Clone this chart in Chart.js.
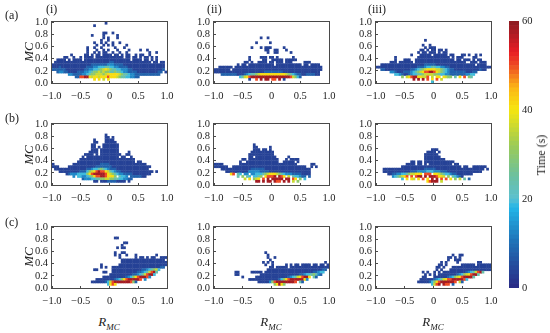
<!DOCTYPE html>
<html>
<head>
<meta charset="utf-8">
<script src="https://cdn.jsdelivr.net/npm/chart.js@4"></script>
<style>
  html, body { margin: 0; background: #fff; }
  body { position: relative; width: 550px; height: 333px; overflow: hidden; font-family: "Liberation Serif", serif; color: #222; }
  canvas { position: absolute; }
  .frame { position: absolute; border: 1px solid #4a4a4a; }
  .lbl { position: absolute; font-size: 12px; line-height: 14px; white-space: nowrap; }
  .mc { font-size: 13px; font-style: italic; transform: translate(-50%, -50%) rotate(-90deg); }
  .rmc { font-size: 13px; font-style: italic; transform: translate(-50%, -50%); }
  .rmc sub { font-size: 9px; line-height: 0; }
</style>
</head>
<body>
<canvas id="a1"></canvas><canvas id="a2"></canvas><canvas id="a3"></canvas>
<canvas id="b1"></canvas><canvas id="b2"></canvas><canvas id="b3"></canvas>
<canvas id="c1"></canvas><canvas id="c2"></canvas><canvas id="c3"></canvas>
<canvas id="bar"></canvas>

<span class="lbl" style="left:5px;top:8px;">(a)</span>
<span class="lbl" style="left:5px;top:111px;">(b)</span>
<span class="lbl" style="left:5px;top:215px;">(c)</span>
<span class="lbl" style="left:46px;top:2px;">(i)</span>
<span class="lbl" style="left:207px;top:2px;">(ii)</span>
<span class="lbl" style="left:368px;top:2px;">(iii)</span>
<span class="lbl mc" style="left:29px;top:52px;">MC</span>
<span class="lbl mc" style="left:29px;top:155px;">MC</span>
<span class="lbl mc" style="left:29px;top:257px;">MC</span>
<span class="lbl rmc" style="left:109px;top:322px;">R<sub>MC</sub></span>
<span class="lbl rmc" style="left:271px;top:322px;">R<sub>MC</sub></span>
<span class="lbl rmc" style="left:433px;top:322px;">R<sub>MC</sub></span>
<span class="lbl" style="left:541px;top:155px;transform:translate(-50%,-50%) rotate(-90deg);">Time (s)</span>

<script>
// tick values and labels
const xTicks = [-1, -0.5, 0, 0.5, 1];
const xTickLabels = ['\u22121.0', '\u22120.5', '0', '0.5', '1.0'];
const yTicks = [0, 0.2, 0.4, 0.6, 0.8, 1];
const yTickLabels = ['0.0', '0.2', '0.4', '0.6', '0.8', '1.0'];
const barTicks = [0, 20, 40, 60];

// time (s) for each digit used in the grids below
const timeLevels = [3.5, 8, 13, 19, 24, 30, 36, 41, 50, 58];

// colour bar stops [time, colour]
const colourStops = [
  [0, '#2a2a85'], [10, '#1f6fb5'], [18, '#22b5e8'], [20, '#5bc0d0'], [25, '#6cc0a0'],
  [32, '#9ccb55'], [40, '#f6e60e'], [45, '#fbb516'], [50, '#ee4a24'], [53, '#e81c24'],
  [57, '#b01c24'], [60, '#8a1c22']
];

const rBin = 0.04;  // R_MC bin, columns start at -1
const mcBin = 0.04; // MC bin, rows start at 0
// each grid: rows listed top down from MC row 24 to MC row 0, one char per R_MC column
const a1 = [
  "                       0",
  "                  0",
  "",
  "",
  "                      00  0",
  "                 0    0     0",
  "                      0 0   0",
  "                     0  0",
  "                  0  0 0  0  0",
  "                   0  0 0 0     0",
  "               0  0  0     0   0",
  "               0   0  0 0   0    0    0  0",
  "               0  0 0 00  0  0  0         0  0",
  "        0     00 0 00 0000 00 0 00  0 00  0",
  "     00  0  0 0000 000000000000 00 00 0 00 0 0",
  "  0000 0 0000 00000000000000000000 0000 00 0 0",
  " 000000000000000000000000110000000000000000 00 00",
  "0000000000000000011111112221111000000000000000000",
  "0001000000000001112233344332211110000000000000000",
  "1111110000000011223345676544332221100000000000001",
  "  1221100001112234556565544544322111100000000011 0",
  "       2211112234556665677777654432211111111111",
  "          1188997677677787776544332211",
  "                  7 7 6 7",
  ""
];
const a2 = [
  "", "", "", "", "", "",
  "                    0  0",
  "",
  "                  0     0",
  "",
  "                0   0 000     0",
  "                      00  00   0",
  "                       0  00     0",
  "",
  "               0    000 00 0      0",
  "               0     00  00000 00000",
  "             00 0  0000 00 000 000     000",
  "          0 00 00000000000 00000000000 00 0000",
  "  000000 00000000000000000000000000000000000000",
  "0000000 000000000000000000000000000000000000000",
  "0000000000000000000000111111110000000000000000",
  "   1111111000123445677777777777654321100111100",
  "           346789999999999999999986531",
  "               0  8 9 99 88 9 0",
  ""
];
const a3 = [
  "", "", "", "", "", "", "",
  "                     0",
  "",
  "                    0  0",
  "                     0 000",
  "                   00 0 00 00 0",
  "                  0 00 000 0 00",
  "               0   00000 000000 00   00 0  0 0",
  "        0         00000000000000 0 000    00",
  "        0   000  00000000000000000 00 000 0 00",
  "      000 000000 0000000000000000000000  000 000",
  "  00000000000000000001111100000000000000000 0000",
  "00000000000000000011123344332211000000000000000000",
  "  1100000000000112345677776654321100000000000100",
  "      22100011123456788998765432111111100011",
  "        33210012334456666554332211111112233",
  "           5 6789977668 6 77 7655 4 7 8 54",
  "                9 9 9 8 7 8 6",
  "                        3"
];
const b1 = [
  "", "", "", "",
  "                       0",
  "                       00 0",
  "                  0    0000",
  "                  00   00000",
  "                 00   0000000",
  "                 00 0 0000000",
  "                 000 00000000",
  "                0000 00000000    0",
  "              0000 0 000000000  00",
  "             0 00000000000000 00  0",
  "            000000000000000000000000",
  "           0000000000000000000000000 00",
  "0        00000000000011110000000000000000",
  "000    000000000000111111100000000000000000",
  " 00000000000000112334543211100000000000000",
  "   00000000011135678988764321100000000000000 0",
  "      0122233335789999987654322111100000000",
  "         2 33223457889987775 4332 1111100",
  "             1222334455665544332211",
  "                  00 00011110000 0",
  ""
];
const b2 = [
  "", "", "", "", "", "", "", "",
  "                 0",
  "                 00     0",
  "                 000 00 0",
  "                0000000000",
  "               00000000000",
  "               00 000000000     0",
  "            00 0000000000000   0 0000",
  "           0  00000000000000  00000 0",
  "0000       0000000000000000000000000      00",
  "000000  00000000000000000000000000000000  0 0",
  "   000000000000011111100000000000000000000",
  "     0000000000222221111000000000000000000",
  "       78 43 22 22333456777654322211110000",
  "          4 5 43 3345 78889 987 6 433211 1",
  "             6 7 567 8 9 99999 99 87 5 3",
  "                  99 9 99 988 9 9 6 5",
  ""
];
const b3 = [
  "", "", "", "", "", "", "", "", "", "",
  "                        000",
  "                      0000 0",
  "                     000000",
  "                     0000000",
  "                     000000000",
  "               00 00 0000000000000",
  "             0000 00 0 0000000000 00",
  "           00000000000000000000000000 00  000000",
  "   00000000000000000011111000000000000000000000 0",
  "   0000000000001112222333222111000000000000000",
  "     001122334566777 888 77654332110000000",
  "       2345678 8 899 9 9998776 5 43210",
  "           3 7 76 7 8 7 9 9 8 8 7 5 6 4 1",
  "                      78999 6",
  ""
];
const c1 = [
  "", "", "", "",
  "                           00",
  "",
  "                               00",
  "                              0",
  "                            0 00",
  "",
  "                           0  00",
  "                           0 0  0   0        0",
  "                             0      0 00 0 00  00000",
  "                              0000000000000000000 0",
  "                              00000000000000000000",
  "                     0       000000000000000000000",
  "                     0 0  00000000000000000000011",
  "                  00      000000000000011234563",
  "                      00  00000000000112346894",
  "                         00000000001123468993",
  "                      000000000012357899982",
  "                   00000000123578999998 2",
  "                 00000013689999999851",
  "                        3787",
  ""
];
const c2 = [
  "", "", "", "", "", "", "", "", "", "",
  "                      0",
  "                       0",
  "                       0  0",
  "                        0",
  "                     0 0 0                      0",
  "                      0  0     0 0 00 0000 00 00 00",
  "                        00 00000 000000000000000000",
  "                       00000000000000000000000011",
  "         00     00000 00000000000000000000011233",
  "         00         000000000000000001123345421",
  "            0     000000000000001234678997 41",
  "               00000000000001357899999972",
  "                   00000258999999998 41",
  "                          57975",
  ""
];
const c3 = [
  "", "", "", "", "", "", "", "", "", "", "",
  "                                 0  00",
  "                               00 0 0",
  "                               0  000",
  "                            0 0    0        00",
  "                           00 0      000000 000000",
  "                          00 0   00000000000000000",
  "                          0 0   00000000000000000011",
  "                    0 0  0 0 000000000012346894",
  "                     0 0 0 000000001235678994",
  "                    00   000000123567899994",
  "                   000000123467889999983",
  "                  00000135789999998 61",
  "                        3689 988 1",
  ""
];

const panels = [
  { id: 'a1', grid: a1, left: 52, top: 22 }, { id: 'a2', grid: a2, left: 214, top: 22 }, { id: 'a3', grid: a3, left: 376, top: 22 },
  { id: 'b1', grid: b1, left: 52, top: 124 }, { id: 'b2', grid: b2, left: 214, top: 124 }, { id: 'b3', grid: b3, left: 376, top: 124 },
  { id: 'c1', grid: c1, left: 52, top: 227 }, { id: 'c2', grid: c2, left: 214, top: 227 }, { id: 'c3', grid: c3, left: 376, top: 227 }
];

function hexToRgb(h) {
  return [1, 3, 5].map(i => parseInt(h.substr(i, 2), 16));
}

function timeColour(t) {
  for (let i = 1; i < colourStops.length; i++) {
    if (t <= colourStops[i][0]) {
      const [t0, col0] = colourStops[i - 1];
      const [t1, col1] = colourStops[i];
      const f = (t - t0) / (t1 - t0);
      const a = hexToRgb(col0), b = hexToRgb(col1);
      return `rgb(${a.map((v, k) => Math.round(v + (b[k] - v) * f)).join(',')})`;
    }
  }
  return colourStops[colourStops.length - 1][1];
}

function gridToCells(grid) {
  const cells = [];
  grid.forEach((row, r) => {
    const mc = (grid.length - 1 - r + 0.5) * mcBin;
    [...row].forEach((ch, c) => {
      if (ch !== ' ') cells.push({ x: -1 + (c + 0.5) * rBin, y: mc, t: timeLevels[+ch] });
    });
  });
  return cells;
}

const tickFont = { family: '"Liberation Serif", serif', size: 10.5 };
const plotW = 115, plotH = 61, padL = 36, padR = 14, padT = 6, padB = 22;
// short inward tick marks
const tickGrid = { drawOnChartArea: false, tickLength: -2, color: '#4a4a4a' };

panels.forEach(p => {
  const canvas = document.getElementById(p.id);
  canvas.width = plotW + padL + padR;
  canvas.height = plotH + padT + padB;
  canvas.style.left = (p.left - padL) + 'px';
  canvas.style.top = (p.top - padT) + 'px';

  const frame = document.createElement('div');
  frame.className = 'frame';
  frame.style.cssText = `left:${p.left - 1}px;top:${p.top - 1}px;width:${plotW}px;height:${plotH}px;`;
  document.body.appendChild(frame);

  new Chart(canvas, {
    type: 'scatter',
    data: {
      datasets: [{
        data: gridToCells(p.grid),
        pointStyle: 'rect',
        pointRadius: 1.95,
        pointBorderWidth: 0,
        pointBackgroundColor: ctx => timeColour(ctx.raw.t)
      }]
    },
    options: {
      responsive: false,
      animation: false,
      layout: { padding: { top: padT, right: padR } },
      plugins: { legend: { display: false }, tooltip: { enabled: false } },
      scales: {
        x: {
          type: 'linear', min: -1, max: 1, z: 1,
          grid: tickGrid, border: { display: false },
          afterBuildTicks: s => { s.ticks = xTicks.map(value => ({ value })); },
          afterFit: s => { s.height = padB; s.paddingLeft = 0; s.paddingRight = 0; },
          ticks: {
            autoSkip: false, maxRotation: 0, padding: 9, color: '#222', font: tickFont,
            callback: v => xTickLabels[xTicks.indexOf(v)]
          }
        },
        y: {
          type: 'linear', min: 0, max: 1, z: 1,
          grid: tickGrid, border: { display: false },
          afterBuildTicks: s => { s.ticks = yTicks.map(value => ({ value })); },
          afterFit: s => { s.width = padL; s.paddingTop = 0; s.paddingBottom = 0; },
          ticks: {
            autoSkip: false, padding: 6, color: '#222', font: tickFont,
            callback: v => yTickLabels[yTicks.indexOf(v)]
          }
        }
      }
    }
  });
});

// colour bar: one stacked bar, one 1 s segment per dataset
const barSteps = Array.from({ length: 60 }, (_, i) => i);
const barCanvas = document.getElementById('bar');
barCanvas.width = 41;
barCanvas.height = 279;
barCanvas.style.left = '509px';
barCanvas.style.top = '15px';
new Chart(barCanvas, {
  type: 'bar',
  data: {
    labels: ['Time (s)'],
    datasets: barSteps.map(t => ({
      data: [1],
      backgroundColor: timeColour(t + 0.5),
      borderWidth: 0,
      barPercentage: 1,
      categoryPercentage: 1
    }))
  },
  options: {
    responsive: false,
    animation: false,
    layout: { padding: { top: 6, bottom: 6 } },
    plugins: { legend: { display: false }, tooltip: { enabled: false } },
    scales: {
      x: { stacked: true, display: false },
      y: {
        stacked: true, position: 'right', min: 0, max: 60,
        grid: { display: false, drawTicks: false }, border: { display: false },
        afterBuildTicks: s => { s.ticks = barTicks.map(value => ({ value })); },
        afterFit: s => { s.width = 31; s.paddingTop = 0; s.paddingBottom = 0; },
        ticks: { padding: 3, color: '#222', font: tickFont }
      }
    }
  }
});
</script>
</body>
</html>
